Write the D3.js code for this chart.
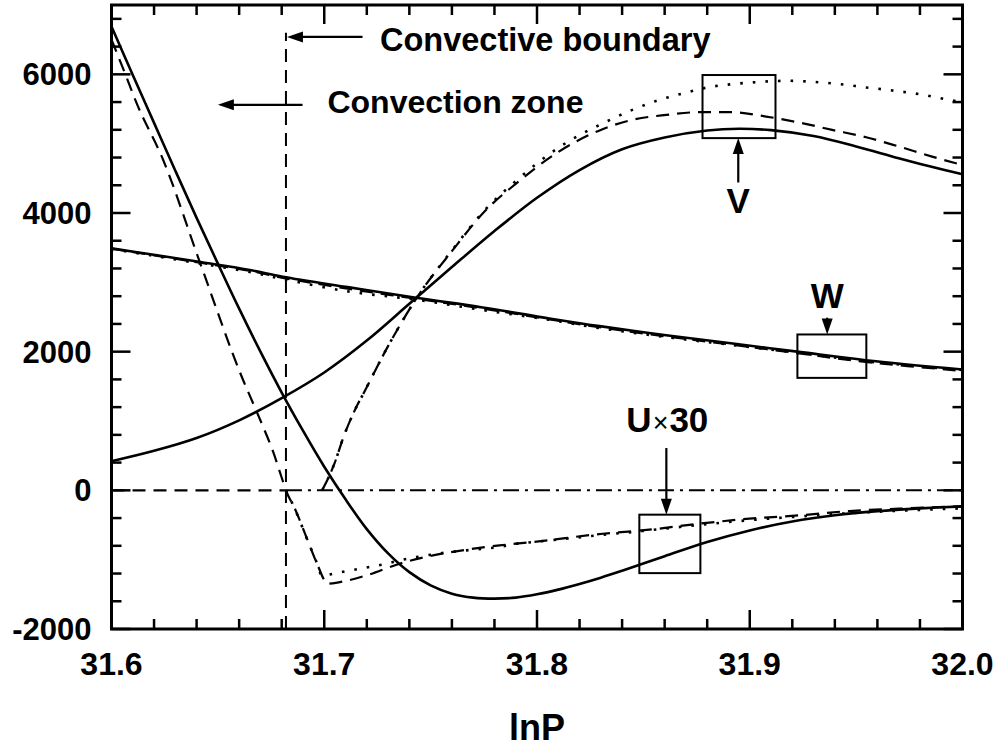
<!DOCTYPE html>
<html><head><meta charset="utf-8">
<script src="https://cdn.jsdelivr.net/npm/d3@7"></script>
<style>
html,body{margin:0;padding:0;background:#fff;}
svg{display:block;}
text{font-family:"Liberation Sans",Arial,Helvetica,sans-serif;font-weight:bold;fill:#000;}
</style></head><body>
<svg id="chart" width="999" height="750"></svg>
<script>
// ---------------- data ----------------
const xTickValues = [31.6, 31.7, 31.8, 31.9, 32.0];
const xTickLabels = ["31.6", "31.7", "31.8", "31.9", "32.0"];
const yTickValues = [-2000, 0, 2000, 4000, 6000];
const yTickLabels = ["-2000", "0", "2000", "4000", "6000"];
const xTitle = "lnP";

// U x 30
const uSolid = [[31.60,6690],[31.61,5990],[31.62,5300],[31.63,4610],[31.64,3930],[31.65,3270],[31.66,2620],[31.67,2000],[31.68,1410],[31.69,860],[31.70,340],[31.71,-130],[31.72,-560],[31.73,-910],[31.74,-1180],[31.75,-1370],[31.76,-1490],[31.77,-1548],[31.78,-1562],[31.79,-1548],[31.80,-1500],[31.81,-1432],[31.82,-1350],[31.83,-1260],[31.84,-1160],[31.86,-950],[31.88,-745],[31.90,-578],[31.92,-450],[31.94,-360],[31.96,-300],[31.98,-260],[32.0,-231]];
const uDashed = [[31.60,6500],[31.6063,6017],[31.6118,5584],[31.6243,4765],[31.6415,3292],[31.6619,1588],[31.6666,1252],[31.6713,914],[31.676,553],[31.6799,192],[31.6823,-24],[31.6862,-264],[31.6916,-674],[31.6963,-1035],[31.7018,-1347],[31.7073,-1324],[31.7198,-1227],[31.7354,-1058],[31.7511,-939],[31.7668,-856],[31.7824,-794],[31.798,-746],[31.8309,-626],[31.8528,-568],[31.8763,-481],[31.8998,-409],[31.9232,-361],[31.9467,-299],[31.9702,-264],[32.0,-231]];
const uDotted = [[31.682,0],[31.6862,-270],[31.6916,-680],[31.6963,-1030],[31.699,-1235],[31.7026,-1213],[31.7104,-1165],[31.7167,-1131],[31.7276,-1069],[31.7354,-1011],[31.7433,-963],[31.7511,-924],[31.7589,-891],[31.7668,-866],[31.7746,-842],[31.7824,-818],[31.7902,-770],[31.798,-746],[31.8059,-722],[31.83,-645],[31.85,-585],[31.876,-500],[31.90,-430],[31.923,-378],[31.947,-330],[31.97,-295],[32.0,-260]];

// V
const vSolid = [[31.60,420],[31.62,570],[31.64,755],[31.66,1010],[31.68,1330],[31.70,1700],[31.72,2160],[31.74,2690],[31.76,3220],[31.78,3740],[31.80,4220],[31.82,4620],[31.84,4920],[31.86,5090],[31.88,5190],[31.895,5215],[31.91,5195],[31.93,5110],[31.95,4960],[31.97,4790],[31.985,4670],[32.0,4559]];
const vDashed = [[31.699,0],[31.7025,217],[31.705,404],[31.709,765],[31.7155,1227],[31.718,1372],[31.730,2080],[31.7434,2773],[31.760,3450],[31.776,4043],[31.790,4420],[31.810,4880],[31.8308,5209],[31.8448,5343],[31.8608,5415],[31.8763,5454],[31.8918,5454],[31.9077,5391],[31.9232,5305],[31.9387,5199],[31.9547,5093],[31.9702,4958],[31.9857,4813],[32.0,4693]];
const vDotted = [[31.699,0],[31.7025,217],[31.705,404],[31.709,765],[31.7155,1227],[31.718,1372],[31.730,2080],[31.7434,2773],[31.760,3460],[31.776,4060],[31.790,4460],[31.810,4940],[31.8317,5305],[31.8448,5487],[31.8566,5622],[31.8692,5730],[31.881,5816],[31.8936,5864],[31.9059,5893],[31.917,5907],[31.929,5893],[31.942,5860],[31.9547,5811],[31.9669,5768],[31.9795,5715],[31.9937,5632],[32.0,5600]];

// W
const wSolid = [[31.60,3490],[31.6183,3405],[31.6418,3292],[31.665,3177],[31.6805,3080],[31.7118,2927],[31.7431,2777],[31.7744,2638],[31.8058,2479],[31.8294,2368],[31.8607,2238],[31.892,2118],[31.9232,1997],[31.9545,1877],[32.0,1743]];
const wDashed = [[31.60,3485],[31.6183,3398],[31.6418,3282],[31.665,3165],[31.6805,3065],[31.7118,2905],[31.7431,2765],[31.7744,2622],[31.8058,2466],[31.8294,2352],[31.8607,2220],[31.892,2100],[31.9232,1975],[31.9545,1852],[32.0,1722]];
const wDotted = [[31.60,3480],[31.6183,3390],[31.6418,3270],[31.665,3150],[31.6805,3047],[31.7118,2866],[31.7431,2750],[31.7744,2600],[31.8058,2460],[31.8294,2340],[31.8607,2210],[31.892,2095],[31.9232,1980],[31.9545,1862],[32.0,1735]];

// reference lines
const zeroDashed = [[31.60,0],[31.682,0]];
const zeroDashDot = [[31.682,0],[32.0,0]];
const boundaryX = 31.682;

// annotation boxes [x0, x1, y0, y1] in data units
const boxV = [31.8778, 31.9121, 5080, 5990];
const boxW = [31.9224, 31.9548, 1622, 2248];
const boxU = [31.8481, 31.8768, -1194, -351];

// ---------------- layout ----------------
const L = 111.5, R = 962.5, T = 5, B = 629;
const x = d3.scaleLinear().domain([31.6, 32.0]).range([L, R]);
const y = d3.scaleLinear().domain([-2000, 7000]).range([B, T]);

const svg = d3.select("#chart");
svg.append("defs").append("clipPath").attr("id","clip")
  .append("rect").attr("x",L).attr("y",T).attr("width",R-L).attr("height",B-T);

const plot = svg.append("g").attr("clip-path","url(#clip)");
const smooth = d3.line().x(d=>x(d[0])).y(d=>y(d[1])).curve(d3.curveCatmullRom.alpha(0.5));
const mono = d3.line().x(d=>x(d[0])).y(d=>y(d[1])).curve(d3.curveMonotoneX);

const styles = {
  solid:  {w:2.6, dash:null},
  dashed: {w:2.2, dash:"13,8"},
  dotted: {w:2.6, dash:"2.6,10"},
  dashdot:{w:2.0, dash:"16,6,3,6"}
};
function draw(data, st, gen){
  const s = styles[st];
  const p = plot.append("path").datum(data).attr("d", gen || smooth)
    .attr("fill","none").attr("stroke","#000").attr("stroke-width", s.w)
    .attr("stroke-linejoin","round");
  if (s.dash) p.attr("stroke-dasharray", s.dash);
}
draw(zeroDashed, "dashed", mono);
draw(zeroDashDot, "dashdot", mono);
draw(wDotted, "dotted");
draw(wDashed, "dashed");
draw(wSolid, "solid");
draw(vDotted, "dotted", mono);
draw(vDashed, "dashed", mono);
draw(vSolid, "solid");
draw(uDotted, "dotted", mono);
draw(uDashed, "dashed", mono);
draw(uSolid, "solid");

// convective boundary vertical line
plot.append("line").attr("x1",x(boundaryX)).attr("x2",x(boundaryX))
  .attr("y1",y(-2000)).attr("y2",y(6600))
  .attr("stroke","#000").attr("stroke-width",2).attr("stroke-dasharray","13,8");

// boxes
[boxV, boxW, boxU].forEach(b=>{
  svg.append("rect").attr("x",x(b[0])).attr("y",y(b[3]))
    .attr("width",x(b[1])-x(b[0])).attr("height",y(b[2])-y(b[3]))
    .attr("fill","none").attr("stroke","#000").attr("stroke-width",2);
});

// arrows
function arrow(x1,y1,x2,y2){
  const dx=x2-x1, dy=y2-y1, len=Math.hypot(dx,dy), ux=dx/len, uy=dy/len;
  const hl=16, hw=5.5;
  const bx=x2-ux*hl, by=y2-uy*hl;
  svg.append("line").attr("x1",x1).attr("y1",y1).attr("x2",bx+ux*2).attr("y2",by+uy*2)
    .attr("stroke","#000").attr("stroke-width",2.2);
  svg.append("path").attr("d",`M${x2},${y2}L${bx-uy*hw},${by+ux*hw}L${bx+uy*hw},${by-ux*hw}Z`)
    .attr("fill","#000");
}
// Convective boundary
arrow(x(31.718), y(6540), x(boundaryX)+1, y(6540));
svg.append("text").attr("x",x(31.7262)).attr("y",y(6330)).attr("font-size",32.5).text("Convective boundary");
// Convection zone
arrow(x(31.6898), y(5560), x(31.650), y(5560));
svg.append("text").attr("x",x(31.7015)).attr("y",y(5440)).attr("font-size",32).text("Convection zone");
// V
svg.append("text").attr("x",x(31.8946)).attr("y",y(4000)).attr("font-size",35).attr("text-anchor","middle").text("V");
arrow(x(31.8946), y(4440), x(31.8946), y(boxV[2]));
// W
svg.append("text").attr("x",x(31.9364)).attr("y",y(2630)).attr("font-size",35).attr("text-anchor","middle").text("W");
arrow(x(31.9364), y(2490), x(31.9364), y(boxW[3]));
// U x 30
const ut = svg.append("text").attr("x",x(31.842)).attr("y",y(840)).attr("font-size",35);
ut.append("tspan").text("U");
ut.append("tspan").attr("font-weight","normal").attr("font-size",27).attr("dx",1).text("×");
ut.append("tspan").attr("dx",1).text("30");
arrow(x(31.8608), y(610), x(31.8608), y(boxU[3]));

// ---------------- axes ----------------
const xMinor = d3.range(0, 21).map(i => 31.6 + i*0.02);
const yMinor = d3.range(0, 23).map(i => -2000 + i*400);
const tickG = svg.append("g").attr("stroke","#000").attr("stroke-width",2.5);
function tick(x1,y1,x2,y2){ tickG.append("line").attr("x1",x1).attr("y1",y1).attr("x2",x2).attr("y2",y2); }
const MAJ = 19, MIN = 10;
xMinor.forEach(v=>{
  const isMaj = xTickValues.some(t=>Math.abs(t-v)<1e-6);
  const len = isMaj?MAJ:MIN, px = x(v);
  tick(px,B,px,B-len); tick(px,T,px,T+len);
});
yMinor.forEach(v=>{
  if (v>7000) return;
  const isMaj = yTickValues.includes(v);
  const len = isMaj?MAJ:MIN, py = y(v);
  tick(L,py,L+len,py); tick(R,py,R-len,py);
});
svg.append("rect").attr("x",L).attr("y",T).attr("width",R-L).attr("height",B-T)
  .attr("fill","none").attr("stroke","#000").attr("stroke-width",3);

xTickValues.forEach((v,i)=>{
  svg.append("text").attr("x",x(v)).attr("y",B+46).attr("font-size",32)
    .attr("text-anchor","middle").text(xTickLabels[i]);
});
yTickValues.forEach((v,i)=>{
  svg.append("text").attr("x",L-20).attr("y",y(v)+11).attr("font-size",31)
    .attr("text-anchor","end").text(yTickLabels[i]);
});
svg.append("text").attr("x",(L+R)/2).attr("y",740).attr("font-size",36)
  .attr("text-anchor","middle").text(xTitle);
</script>
</body></html>
